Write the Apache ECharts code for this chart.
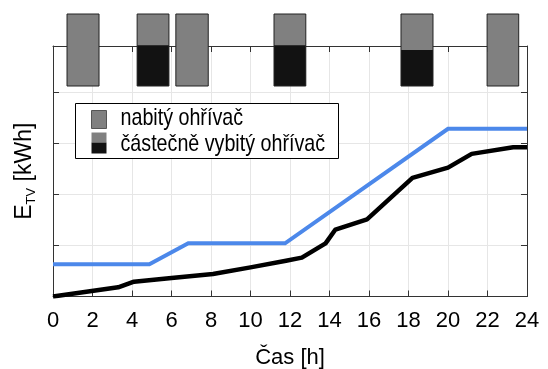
<!DOCTYPE html>
<html>
<head>
<meta charset="utf-8">
<script src="https://cdn.jsdelivr.net/npm/echarts@6/dist/echarts.min.js"></script>
<style>
  html, body { margin: 0; padding: 0; background: #fff; }
  #chart { width: 548px; height: 369px; }
</style>
</head>
<body>
<div id="chart"></div>
<script>
// Hour ticks along the time axis
const hourTicks = [0, 2, 4, 6, 8, 10, 12, 14, 16, 18, 20, 22, 24];

// Energy curves [hour, energy]
const fullHeater = [[0, 0.63], [4.88, 0.63], [6.85, 1.04], [11.75, 1.04], [20.0, 3.28], [24, 3.28]];
const partialHeater = [
  [0, 0.0], [3.3, 0.18], [4.1, 0.29], [6.0, 0.36], [8.1, 0.44], [10.0, 0.57],
  [11.8, 0.70], [12.6, 0.76], [13.8, 1.04], [14.3, 1.31], [15.9, 1.51],
  [18.2, 2.32], [20.0, 2.52], [21.2, 2.79], [23.3, 2.92], [24, 2.92]
];

// Heating blocks: [start hour, end hour, discharged fraction]
const heatBlocks = [
  [0.71, 2.33, 0],
  [4.26, 5.87, 0.565],
  [6.22, 7.86, 0],
  [11.19, 12.80, 0.565],
  [17.62, 19.24, 0.5],
  [21.98, 23.58, 0]
];

// Legend entries
const legendLabels = ['nabitý ohřívač', 'částečně vybitý ohřívač'];

const FONT = "'Liberation Sans', Arial, Helvetica, sans-serif";
const AXIS_COLOR = '#333';
const GRID_COLOR = '#e6e6e6';
const GRAY = '#808080';
const DARK = '#121212';
const NARROW = 0.82; // horizontal squeeze for legend text
const LEGEND_Z = 100;

const chart = echarts.init(document.getElementById('chart'), null, { renderer: 'canvas' });

const plot = { left: 53, right: 21, top: 46, bottom: 72.5 };

const option = {
  animation: false,
  backgroundColor: '#fff',
  textStyle: { fontFamily: FONT },
  grid: [
    { left: plot.left, right: plot.right, top: plot.top, bottom: plot.bottom,
      containLabel: false, outerBoundsMode: 'none' },
    { left: plot.left, right: plot.right, top: 14, height: 72,
      containLabel: false, outerBoundsMode: 'none' }
  ],
  xAxis: [
    {
      type: 'value', gridIndex: 0, min: 0, max: 24, interval: 2, position: 'bottom',
      name: 'Čas [h]', nameLocation: 'middle', nameGap: 50,
      nameTextStyle: { fontFamily: FONT, fontSize: 22, color: '#000' },
      axisLine: { show: true, onZero: false, lineStyle: { color: AXIS_COLOR, width: 1 } },
      axisTick: { show: true, inside: true, length: 6, lineStyle: { color: AXIS_COLOR } },
      axisLabel: {
        fontFamily: FONT, fontSize: 22, color: '#000', margin: 13,
        formatter: v => hourTicks.indexOf(v) >= 0 ? String(v) : ''
      },
      splitLine: { show: true, lineStyle: { color: GRID_COLOR, width: 1 } }
    },
    {
      type: 'value', gridIndex: 0, min: 0, max: 24, interval: 2, position: 'top',
      axisLine: { show: true, onZero: false, lineStyle: { color: AXIS_COLOR, width: 1 } },
      axisTick: { show: true, inside: true, length: 6, lineStyle: { color: AXIS_COLOR } },
      axisLabel: { show: false },
      splitLine: { show: false }
    },
    {
      type: 'value', gridIndex: 1, min: 0, max: 24, show: false
    }
  ],
  yAxis: [
    {
      type: 'value', gridIndex: 0, min: 0, max: 4.9, interval: 1, position: 'left',
      name: '{n|E}{s|TV}{n| [kWh]}', nameLocation: 'middle', nameGap: 15, nameRotate: 90,
      nameTextStyle: {
        color: '#000',
        rich: {
          n: { fontFamily: FONT, fontSize: 23, color: '#000', lineHeight: 26 },
          s: { fontFamily: FONT, fontSize: 13, color: '#000', verticalAlign: 'bottom', lineHeight: 21 }
        }
      },
      axisLine: { show: true, onZero: false, lineStyle: { color: AXIS_COLOR, width: 1 } },
      axisTick: { show: true, inside: true, length: 6, lineStyle: { color: AXIS_COLOR } },
      axisLabel: { show: false },
      splitLine: { show: true, lineStyle: { color: GRID_COLOR, width: 1 } }
    },
    {
      type: 'value', gridIndex: 0, min: 0, max: 4.9, interval: 1, position: 'right',
      axisLine: { show: true, onZero: false, lineStyle: { color: AXIS_COLOR, width: 1 } },
      axisTick: { show: true, inside: true, length: 6, lineStyle: { color: AXIS_COLOR } },
      axisLabel: { show: false },
      splitLine: { show: false }
    },
    {
      type: 'value', gridIndex: 1, min: 0, max: 1, show: false
    }
  ],
  series: [
    {
      name: legendLabels[0],
      type: 'line', xAxisIndex: 0, yAxisIndex: 0,
      data: fullHeater, showSymbol: false, symbol: 'none',
      lineStyle: { color: '#4c88ea', width: 4, join: 'miter' },
      z: 3
    },
    {
      name: legendLabels[1],
      type: 'line', xAxisIndex: 0, yAxisIndex: 0,
      data: partialHeater, showSymbol: false, symbol: 'none',
      lineStyle: { color: '#000', width: 4.5, join: 'round' },
      z: 4
    },
    {
      name: 'bloky',
      type: 'custom', xAxisIndex: 2, yAxisIndex: 2,
      data: heatBlocks,
      encode: { x: [0, 1] },
      clip: false,
      z: 10,
      renderItem: function (params, api) {
        const p0 = api.coord([api.value(0), 1]);
        const p1 = api.coord([api.value(1), 0]);
        const x = p0[0], y = p0[1];
        const w = p1[0] - p0[0], h = p1[1] - p0[1];
        const frac = api.value(2);
        const children = [
          { type: 'rect', shape: { x: x, y: y, width: w, height: h }, style: { fill: GRAY } }
        ];
        if (frac > 0) {
          children.push({
            type: 'rect',
            shape: { x: x, y: y + h * (1 - frac), width: w, height: h * frac },
            style: { fill: DARK }
          });
        }
        children.push({
          type: 'rect', shape: { x: x, y: y, width: w, height: h },
          style: { fill: 'none', stroke: '#222', lineWidth: 1 }
        });
        return { type: 'group', children: children };
      }
    }
  ],
  graphic: [
    {
      type: 'group', left: 75, top: 103, z: LEGEND_Z,
      children: [
        { type: 'rect', z: LEGEND_Z, shape: { x: 0, y: 0, width: 263, height: 55 },
          style: { fill: '#fff', stroke: '#000', lineWidth: 1 } },
        // charged heater icon
        { type: 'rect', z: LEGEND_Z + 1, shape: { x: 16, y: 7, width: 15, height: 18 },
          style: { fill: GRAY, stroke: '#555', lineWidth: 1 } },
        { type: 'text', z: LEGEND_Z + 1, x: 45, y: 15, scaleX: NARROW,
          style: { text: legendLabels[0], fontFamily: FONT, fontSize: 24, fill: '#000', verticalAlign: 'middle' } },
        // partially discharged heater icon
        { type: 'rect', z: LEGEND_Z + 1, shape: { x: 16, y: 29, width: 15, height: 10 },
          style: { fill: GRAY } },
        { type: 'rect', z: LEGEND_Z + 1, shape: { x: 16, y: 39, width: 15, height: 11 },
          style: { fill: DARK } },
        { type: 'text', z: LEGEND_Z + 1, x: 45, y: 41, scaleX: NARROW,
          style: { text: legendLabels[1], fontFamily: FONT, fontSize: 24, fill: '#000', verticalAlign: 'middle' } }
      ]
    }
  ]
};

chart.setOption(option);
</script>
</body>
</html>
